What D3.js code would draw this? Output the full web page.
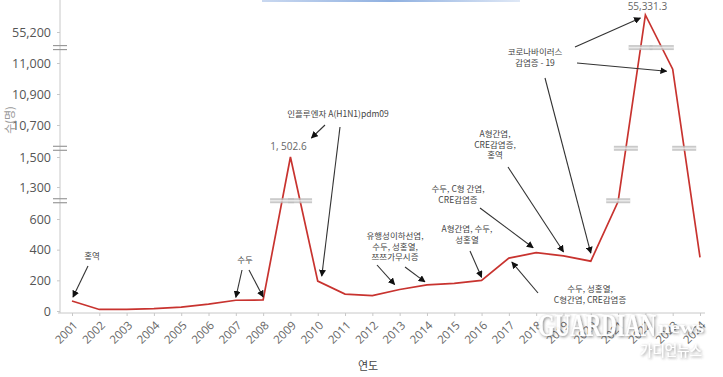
<!DOCTYPE html>
<html><head><meta charset="utf-8">
<script src="https://cdn.jsdelivr.net/npm/d3@7"></script>
<style>
html,body{margin:0;padding:0;background:#fff;}
svg{display:block;font-family:"Noto Sans CJK KR","Noto Sans",sans-serif;}
</style></head>
<body><svg id="c" width="723" height="377"></svg>
<script>
// ---- data ----
const years = [2001,2002,2003,2004,2005,2006,2007,2008,2009,2010,2011,2012,2013,2014,2015,2016,2017,2018,2019,2020,2021,2022,2023,2024];
const cases = [65,10,10,15,25,45,70,72,1502.6,195,110,100,140,170,180,200,345,380,360,325,980,55331.3,10980,350];
// broken y-axis: domain breakpoints and tick labels
const yTickValues = [0,200,400,600,1300,1500,10700,10900,11000,55200];
const yTickLabels = ["0","200","400","600","1,300","1,500","10,700","10,900","11,000","55,200"];
const breakValues = [1000,4000,33000];
const skipBreaks = [[0,2023]];
const valueLabels = [{year:2009,text:"1, 502.6"},{year:2022,text:"55,331.3"}];
const annotations = [
  {lines:["홍역"], tx:92, ty:259, arrows:[{year:2001, ox:1, oy:-4, fx:88, fy:266}]},
  {lines:["수두"], tx:245, ty:263, arrows:[{year:2007, ox:0, oy:-3, fx:242, fy:270},{year:2008, ox:0, oy:-3, fx:249, fy:270}]},
  {lines:["인플루엔자 A(H1N1)pdm09"], tx:338, ty:117, arrows:[{year:2009, ox:21, oy:-19, fx:325, fy:125},{year:2010, ox:4, oy:-5, fx:340, fy:127}]},
  {lines:["유행성이하선염,","수두, 성홍열,","쯔쯔가무시증"], tx:395, ty:239, arrows:[{year:2013, ox:-5, oy:-5, fx:377, fy:265},{year:2014, ox:-2, oy:-3, fx:405, fy:267}]},
  {lines:["A형간염, 수두,","성홍열"], tx:467, ty:232, arrows:[{year:2016, ox:0, oy:-3, fx:470, fy:251}]},
  {lines:["수두, C형 간염,","CRE감염증"], tx:458, ty:192, arrows:[{year:2018, ox:-3, oy:-5, fx:480, fy:208}]},
  {lines:["A형간염,","CRE감염증,","홍역"], tx:495, ty:137, arrows:[{year:2019, ox:0, oy:-4, fx:508, fy:167}]},
  {lines:["코로나바이러스","감염증 - 19"], tx:535, ty:55, arrows:[{year:2022, ox:-5, oy:3, fx:575, fy:47},{year:2023, ox:-6, oy:2, fx:577, fy:63},{year:2020, ox:0, oy:-8, fx:545, fy:78}]},
  {lines:["수두, 성홍열,","C형간염, CRE감염증"], tx:590, ty:292, arrows:[{year:2017, ox:3, oy:4, fx:538, fy:293}]}
];

// ---- scales ----
const svg = d3.select("#c");
const defs = svg.append("defs");
const x = d3.scaleLinear().domain([2001,2024]).range([72,700]);
const y = d3.scaleLinear()
  .domain([0,600,1300,1500,10700,10900,11000,55200,55400])
  .range([311,219,187,157,125,94,63,32,6]);

// top decorative line
const g0 = defs.append("linearGradient").attr("id","tb");
g0.append("stop").attr("offset","0").attr("stop-color","#c9d8f0");
g0.append("stop").attr("offset","0.5").attr("stop-color","#8fb0e0");
g0.append("stop").attr("offset","1").attr("stop-color","#dfe8f6");
svg.append("rect").attr("x",262).attr("y",0).attr("width",258).attr("height",2).attr("fill","url(#tb)");

// axes
const axisColor = "#c8c8c8";
const yAxis = svg.append("g").attr("transform","translate(60,0)")
  .call(d3.axisLeft(y).tickValues(yTickValues).tickSize(3).tickFormat((d,i)=>yTickLabels[i]));
yAxis.select(".domain").attr("d","M0,0V313").attr("stroke",axisColor);
yAxis.selectAll(".tick line").attr("stroke",axisColor);
yAxis.selectAll(".tick text").attr("fill","#555").attr("font-size",12.5)
  .attr("font-family","'Open Sans','Noto Sans',sans-serif").attr("x",-9);

const xAxis = svg.append("g").attr("transform","translate(0,313)")
  .call(d3.axisBottom(x).tickValues(years).tickSize(3).tickFormat(d3.format("d")));
xAxis.select(".domain").attr("d","M58,0H705").attr("stroke",axisColor);
xAxis.selectAll(".tick line").attr("stroke",axisColor);
xAxis.selectAll(".tick text").attr("fill","#666").attr("font-size",11.5)
  .attr("font-family","'Open Sans','Noto Sans',sans-serif")
  .attr("text-anchor","end").attr("dy",0).attr("y",0)
  .attr("transform","translate(6,13) rotate(-45)");

// axis titles
svg.append("text").attr("x",368).attr("y",370).attr("text-anchor","middle")
  .attr("font-size",11).attr("fill","#444").text("연도");
svg.append("text").attr("transform","translate(14,120) rotate(-90)").attr("text-anchor","middle")
  .attr("font-size",11).attr("fill","#999").text("수(명)");

// y-axis break marks
breakValues.forEach(v=>{
  const yy = y(v);
  [-2,2].forEach(o=>svg.append("line").attr("x1",53).attr("x2",67)
    .attr("y1",yy+o).attr("y2",yy+o).attr("stroke","#999").attr("stroke-width",1.2));
});

// line
const pts = years.map((yr,i)=>[x(yr), y(cases[i])]);
svg.append("path").datum(years.map((yr,i)=>({yr,v:cases[i]})))
  .attr("d",d3.line().x(d=>x(d.yr)).y(d=>y(d.v)))
  .attr("fill","none").attr("stroke","#c8332f").attr("stroke-width",1.7).attr("stroke-linejoin","miter");

// break bars where line crosses a break
breakValues.forEach((v,bi)=>{
  const by = y(v);
  for(let i=0;i<pts.length-1;i++){
    const [x0,y0]=pts[i],[x1,y1]=pts[i+1];
    if((y0-by)*(y1-by)<0){
      if(skipBreaks.some(s=>s[0]===bi && s[1]===years[i])) continue;
      const t=(by-y0)/(y1-y0), cx=x0+t*(x1-x0);
      svg.append("rect").attr("x",cx-12).attr("y",by-2.5).attr("width",24).attr("height",5)
        .attr("fill","#bbb").attr("opacity",0.8);
      svg.append("rect").attr("x",cx-12).attr("y",by-0.8).attr("width",24).attr("height",1.6)
        .attr("fill","#fff").attr("opacity",0.6);
    }
  }
});

// arrow marker
defs.append("marker").attr("id","ah").attr("viewBox","0 0 10 10")
  .attr("refX",9).attr("refY",5).attr("markerWidth",7).attr("markerHeight",7)
  .attr("orient","auto").attr("markerUnits","userSpaceOnUse")
  .append("path").attr("d","M0,0L10,5L0,10z").attr("fill","#111");

// annotations
const val = yr => cases[years.indexOf(yr)];
annotations.forEach(a=>{
  a.arrows.forEach(r=>{
    svg.append("line").attr("x1",r.fx).attr("y1",r.fy)
      .attr("x2",x(r.year)+r.ox).attr("y2",y(val(r.year))+r.oy)
      .attr("stroke","#333").attr("stroke-width",1.1).attr("marker-end","url(#ah)");
  });
  const t = svg.append("text").attr("text-anchor","middle").attr("font-size",8.5).attr("fill","#444");
  a.lines.forEach((l,i)=>t.append("tspan").attr("x",a.tx).attr("y",a.ty+i*10.5).text(l));
});

// value labels
valueLabels.forEach(l=>{
  const dy = l.year===2009 ? -7 : -5;
  svg.append("text").attr("x",x(l.year)+(l.year===2009?-2:2)).attr("y",y(val(l.year))+dy)
    .attr("text-anchor","middle").attr("font-size",10).attr("fill","#666")
    .attr("font-family","'Open Sans','Noto Sans',sans-serif").text(l.text);
});

// watermark
const wm = svg.append("g").attr("opacity",0.95);
const f = defs.append("filter").attr("id","sh").attr("x","-20%").attr("y","-20%").attr("width","140%").attr("height","140%");
f.append("feDropShadow").attr("dx",1).attr("dy",1).attr("stdDeviation",1.5).attr("flood-color","#555").attr("flood-opacity",0.8);
wm.append("text").attr("x",538).attr("y",336).attr("font-family","'Liberation Serif',serif")
  .attr("font-weight","bold").attr("font-size",31).attr("fill","#fff").attr("filter","url(#sh)")
  .attr("textLength",118).attr("lengthAdjust","spacingAndGlyphs").text("GUARDIAN");
wm.append("text").attr("x",658).attr("y",333).attr("font-family","'Liberation Serif',serif")
  .attr("font-weight","bold").attr("font-size",17).attr("fill","#fff").attr("filter","url(#sh)")
  .attr("textLength",46).attr("lengthAdjust","spacingAndGlyphs").text("news");
wm.append("text").attr("x",640).attr("y",356).attr("font-size",15).attr("fill","#fff").attr("filter","url(#sh)")
  .attr("textLength",62).attr("lengthAdjust","spacingAndGlyphs").text("가디언뉴스");
</script></body></html>
